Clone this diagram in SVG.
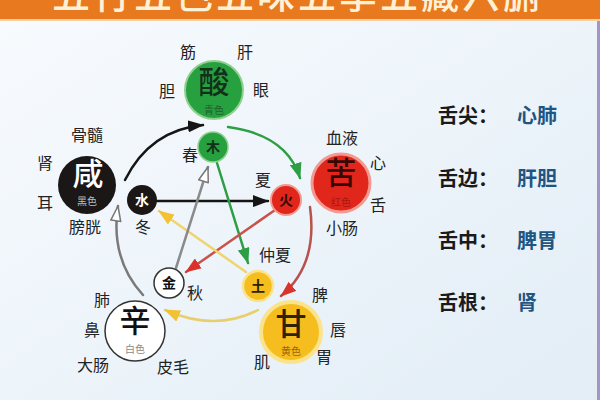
<svg xmlns="http://www.w3.org/2000/svg" width="600" height="400" viewBox="0 0 600 400">
<defs>
  <linearGradient id="bg" x1="0" y1="0" x2="1" y2="1">
    <stop offset="0" stop-color="#F8FBFE"/>
    <stop offset="1" stop-color="#E2EDF6"/>
  </linearGradient>
  <marker id="ah-black" viewBox="0 0 16 12" refX="15" refY="6" markerWidth="16" markerHeight="12" markerUnits="userSpaceOnUse" orient="auto">
    <path d="M0,0 L16,6 L0,12 z" fill="#151515"/>
  </marker>
  <marker id="ah-green" viewBox="0 0 16 12" refX="15" refY="6" markerWidth="16" markerHeight="12" markerUnits="userSpaceOnUse" orient="auto">
    <path d="M0,0 L16,6 L0,12 z" fill="#2E9E45"/>
  </marker>
  <marker id="ah-red" viewBox="0 0 16 12" refX="15" refY="6" markerWidth="16" markerHeight="12" markerUnits="userSpaceOnUse" orient="auto">
    <path d="M0,0 L16,6 L0,12 z" fill="#D9342B"/>
  </marker>
  <marker id="ah-yellow" viewBox="0 0 16 12" refX="15" refY="6" markerWidth="16" markerHeight="12" markerUnits="userSpaceOnUse" orient="auto">
    <path d="M0,0 L16,6 L0,12 z" fill="#F2C232"/>
  </marker>
  <marker id="ah-hollow" viewBox="0 0 18 12" refX="16" refY="6" markerWidth="18" markerHeight="12" markerUnits="userSpaceOnUse" orient="auto">
    <path d="M1,1 L16,6 L1,11 z" fill="#FFFFFF" stroke="#777" stroke-width="1.5" stroke-linejoin="round"/>
  </marker>
  <style>
    .cjk { font-family: "Noto Sans CJK SC", "Noto Sans CJK JP", sans-serif; }
    .lbl { font-size: 16px; fill: #222; text-anchor: middle; }
    .big { font-size: 31px; text-anchor: middle; font-weight: 500; }
    .sub { font-size: 10px; text-anchor: middle; }
    .sm { font-size: 14px; text-anchor: middle; font-weight: 700; }
    .arc { fill: none; stroke-width: 2.5; stroke-linecap: round; }
    .key { font-size: 20px; font-weight: 700; fill: #1a1a1a; }
    .val { font-size: 20px; font-weight: 700; fill: #1F5582; }
  </style>
</defs>

<rect x="0" y="0" width="600" height="400" fill="url(#bg)"/>
<rect x="597" y="20" width="3" height="380" fill="#A196C6"/>

<g id="title">
  <rect x="0" y="0" width="600" height="19" fill="#E8791F"/>
  <rect x="0" y="19" width="600" height="2" fill="#F6CFA5"/>
  <text class="cjk" x="298" y="8" font-size="38" font-weight="500" fill="#FFF1D6" text-anchor="middle" letter-spacing="3">五行五色五味五季五藏六腑</text>
</g>

<g id="connectors">
  <!-- generating cycle arcs -->
  <path class="arc" d="M125,180 Q150,130 203,125" stroke="#151515" marker-end="url(#ah-black)"/>
  <path class="arc" d="M228,127 Q287,135 300,178" stroke="#2E9E45" marker-end="url(#ah-green)"/>
  <path class="arc" d="M310,207 Q318,265 281,296" stroke="#B7524C" marker-end="url(#ah-red)"/>
  <path class="arc" d="M258,310 Q215,332 165,310" stroke="#E8CF6E" marker-end="url(#ah-yellow)"/>
  <path class="arc" d="M143,295 Q110,259 118,206" stroke="#7A7A7A" marker-end="url(#ah-hollow)"/>
  <!-- controlling star -->
  <path class="arc" d="M157,201 L268,201" stroke="#151515" marker-end="url(#ah-black)"/>
  <path class="arc" d="M217,163 L248,263" stroke="#2E9E45" marker-end="url(#ah-green)"/>
  <path class="arc" d="M275,210 L186,272" stroke="#C9524A" marker-end="url(#ah-red)"/>
  <path class="arc" d="M246,272 L159,211" stroke="#F0D46E" marker-end="url(#ah-yellow)"/>
  <path class="arc" d="M176,268 L208,167" stroke="#8A8A8A" marker-end="url(#ah-hollow)"/>
</g>

<g id="node-wood-taste" class="cjk">
  <circle cx="214" cy="90" r="29" fill="#27A03F" stroke="#8FD08F" stroke-width="2"/>
  <text class="big" x="214" y="93" fill="#12301A">酸</text>
  <text class="sub" x="214" y="114" fill="#1E5F2C">青色</text>
  <text class="lbl" x="188" y="58">筋</text>
  <text class="lbl" x="245" y="58">肝</text>
  <text class="lbl" x="167" y="97">胆</text>
  <text class="lbl" x="261" y="96">眼</text>
</g>
<g id="node-wood" class="cjk">
  <circle cx="213" cy="147" r="15" fill="#27A03F" stroke="#8FD08F" stroke-width="1.5"/>
  <text class="sm" x="213" y="152" fill="#12301A">木</text>
  <text class="lbl" x="190" y="161">春</text>
</g>

<g id="node-water-taste" class="cjk">
  <circle cx="87" cy="185" r="29" fill="#1A1716"/>
  <text class="big" x="88" y="185" fill="#FFFFFF">咸</text>
  <text class="sub" x="87" y="205" fill="#BDBDBD">黑色</text>
  <text class="lbl" x="87" y="141">骨髓</text>
  <text class="lbl" x="45" y="169">肾</text>
  <text class="lbl" x="45" y="209">耳</text>
  <text class="lbl" x="85" y="233">膀胱</text>
</g>
<g id="node-water" class="cjk">
  <circle cx="142" cy="200" r="15" fill="#1A1716"/>
  <text class="sm" x="142" y="205" fill="#FFFFFF">水</text>
  <text class="lbl" x="143" y="233">冬</text>
</g>

<g id="node-fire-taste" class="cjk">
  <circle cx="341" cy="183" r="29" fill="#E1261C" stroke="#F29A90" stroke-width="3"/>
  <text class="big" x="341" y="184" fill="#3A0804">苦</text>
  <text class="sub" x="341" y="206" fill="#A8190F">红色</text>
  <text class="lbl" x="342" y="144">血液</text>
  <text class="lbl" x="378" y="169">心</text>
  <text class="lbl" x="378" y="211">舌</text>
  <text class="lbl" x="342" y="234">小肠</text>
</g>
<g id="node-fire" class="cjk">
  <circle cx="286" cy="200" r="15" fill="#E1261C" stroke="#F29A90" stroke-width="2"/>
  <text class="sm" x="286" y="205" fill="#3A0804">火</text>
  <text class="lbl" x="263" y="186">夏</text>
</g>

<g id="node-metal-taste" class="cjk">
  <circle cx="135" cy="331" r="30" fill="#FFFFFF" stroke="#333" stroke-width="1.5"/>
  <text class="big" x="135" y="332" fill="#111" font-size="33">辛</text>
  <text class="sub" x="135" y="353" fill="#8A8A8A" font-size="12">白色</text>
  <text class="lbl" x="102" y="306">肺</text>
  <text class="lbl" x="92" y="336">鼻</text>
  <text class="lbl" x="93" y="371">大肠</text>
  <text class="lbl" x="173" y="373">皮毛</text>
</g>
<g id="node-metal" class="cjk">
  <circle cx="169" cy="283" r="15" fill="#FFFFFF" stroke="#333" stroke-width="1.5"/>
  <text class="sm" x="169" y="288" fill="#111">金</text>
  <text class="lbl" x="195" y="299">秋</text>
</g>

<g id="node-earth-taste" class="cjk">
  <circle cx="291" cy="332" r="30" fill="#F5BE1E" stroke="#FBE38E" stroke-width="4"/>
  <text class="big" x="291" y="335" fill="#2E2200" font-size="33">甘</text>
  <text class="sub" x="291" y="355" fill="#A0600A">黄色</text>
  <text class="lbl" x="320" y="301">脾</text>
  <text class="lbl" x="338" y="336">唇</text>
  <text class="lbl" x="324" y="363">胃</text>
  <text class="lbl" x="262" y="368">肌</text>
</g>
<g id="node-earth" class="cjk">
  <circle cx="258" cy="286" r="15" fill="#F5BE1E" stroke="#FBE38E" stroke-width="2.5"/>
  <text class="sm" x="258" y="291" fill="#2E2200">土</text>
  <text class="lbl" x="275" y="261">仲夏</text>
</g>

<g id="legend" class="cjk">
  <text class="key" x="438" y="123">舌尖：</text>
  <text class="val" x="517" y="123">心肺</text>
  <text class="key" x="438" y="186">舌边：</text>
  <text class="val" x="517" y="186">肝胆</text>
  <text class="key" x="438" y="248">舌中：</text>
  <text class="val" x="517" y="248">脾胃</text>
  <text class="key" x="438" y="310">舌根：</text>
  <text class="val" x="517" y="310">肾</text>
</g>
</svg>
